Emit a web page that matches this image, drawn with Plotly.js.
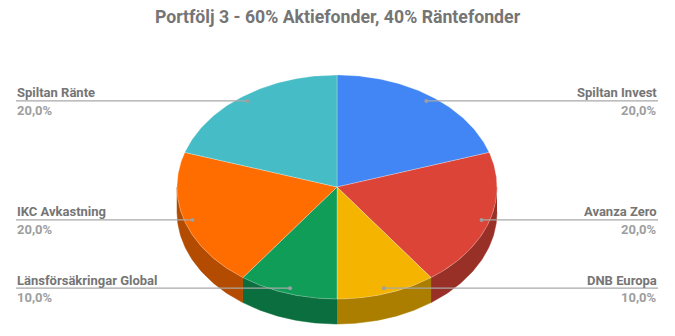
<!DOCTYPE html>
<html>
<head>
<meta charset="utf-8">
<script src="https://cdn.plot.ly/plotly-3.0.1.min.js"></script>
<style>html,body{margin:0;padding:0;background:#fff;}#chart{width:675px;height:336px;}</style>
</head>
<body>
<div id="chart"></div>
<script>
// ---- data ----
const chartTitle = 'Portfölj 3 - 60% Aktiefonder, 40% Räntefonder';
const labels = ['Spiltan Invest', 'Avanza Zero', 'DNB Europa', 'Länsförsäkringar Global', 'IKC Avkastning', 'Spiltan Ränte'];
const values = [20, 20, 10, 10, 20, 20];
const colors = ['#4285F4', '#DB4437', '#F4B400', '#0F9D58', '#FF6D00', '#46BDC6'];

// ---- geometry (layout only) ----
const W = 675, H = 336;
const cx = 337, cy = 187, rx = 160, ry = 112, depth = 25;
const dotR = 0.95;
const leftX = 16, rightX = 658;

function darker(hex, f) {
  const n = parseInt(hex.slice(1), 16);
  const r = Math.round(((n >> 16) & 255) * f), g = Math.round(((n >> 8) & 255) * f), b = Math.round((n & 255) * f);
  return 'rgb(' + r + ',' + g + ',' + b + ')';
}
function pt(deg, k) {
  const t = deg * Math.PI / 180;
  return [cx + rx * k * Math.sin(t), cy - ry * k * Math.cos(t)];
}

const total = values.reduce((a, b) => a + b, 0);
const sideTraces = [], topTraces = [], lineTraces = [], annotations = [];
let start = 0;
values.forEach((v, i) => {
  const a1 = start, a2 = start + v / total * 360;
  start = a2;
  // side wall (front half only)
  const s1 = Math.max(a1, 90), s2 = Math.min(a2, 270);
  if (s2 > s1) {
    const xs = [], ys = [];
    const n = 60;
    for (let j = 0; j <= n; j++) { const p = pt(s1 + (s2 - s1) * j / n, 1); xs.push(p[0]); ys.push(p[1]); }
    for (let j = n; j >= 0; j--) { const p = pt(s1 + (s2 - s1) * j / n, 1); xs.push(p[0]); ys.push(p[1] + depth); }
    sideTraces.push({x: xs, y: ys, type: 'scatter', mode: 'lines', fill: 'toself',
      fillcolor: darker(colors[i], 0.7), line: {color: darker(colors[i], 0.7), width: 0.5},
      hoverinfo: 'skip', showlegend: false});
  }
  // top face
  const xs = [cx], ys = [cy];
  const n = 80;
  for (let j = 0; j <= n; j++) { const p = pt(a1 + (a2 - a1) * j / n, 1); xs.push(p[0]); ys.push(p[1]); }
  xs.push(cx); ys.push(cy);
  topTraces.push({x: xs, y: ys, type: 'scatter', mode: 'lines', fill: 'toself',
    fillcolor: colors[i], line: {color: 'rgba(255,255,255,0.45)', width: 0.6},
    hoverinfo: 'skip', showlegend: false, name: labels[i]});
  // leader line + labels
  const mid = (a1 + a2) / 2;
  const d = pt(mid, dotR);
  const right = mid < 180;
  const ex = right ? rightX : leftX;
  lineTraces.push({x: [ex, d[0]], y: [d[1], d[1]], type: 'scatter', mode: 'lines',
    line: {color: '#a8a8a8', width: 1.2}, hoverinfo: 'skip', showlegend: false});
  lineTraces.push({x: [d[0]], y: [d[1]], type: 'scatter', mode: 'markers',
    marker: {color: '#9e9e9e', size: 4}, hoverinfo: 'skip', showlegend: false});
  const pct = (v / total * 100).toFixed(1).replace('.', ',') + '%';
  annotations.push({x: ex, y: d[1] - 8, xref: 'x', yref: 'y', text: labels[i], showarrow: false,
    xanchor: right ? 'right' : 'left', yanchor: 'middle', borderpad: 0,
    font: {family: 'Roboto', size: 13, weight: 'bold', color: '#757575'}});
  annotations.push({x: ex, y: d[1] + 9.5, xref: 'x', yref: 'y', text: pct, showarrow: false,
    xanchor: right ? 'right' : 'left', yanchor: 'middle', borderpad: 0,
    font: {family: 'Roboto', size: 13, weight: 'bold', color: '#9e9e9e'}});
});

const layout = {
  width: W, height: H,
  margin: {l: 0, r: 0, t: 0, b: 0},
  paper_bgcolor: '#ffffff', plot_bgcolor: '#ffffff',
  title: {text: chartTitle, x: 0.5, xanchor: 'center', xref: 'paper', y: 1 - 17 / H, yref: 'container', yanchor: 'middle',
    font: {family: 'Roboto', size: 17.7, weight: 'bold', color: '#757575'}},
  xaxis: {range: [0, W], visible: false, fixedrange: true},
  yaxis: {range: [H, 0], visible: false, fixedrange: true},
  annotations: annotations,
  showlegend: false
};
Plotly.newPlot('chart', sideTraces.concat(topTraces, lineTraces), layout, {displayModeBar: false, staticPlot: true});
</script>
</body>
</html>
